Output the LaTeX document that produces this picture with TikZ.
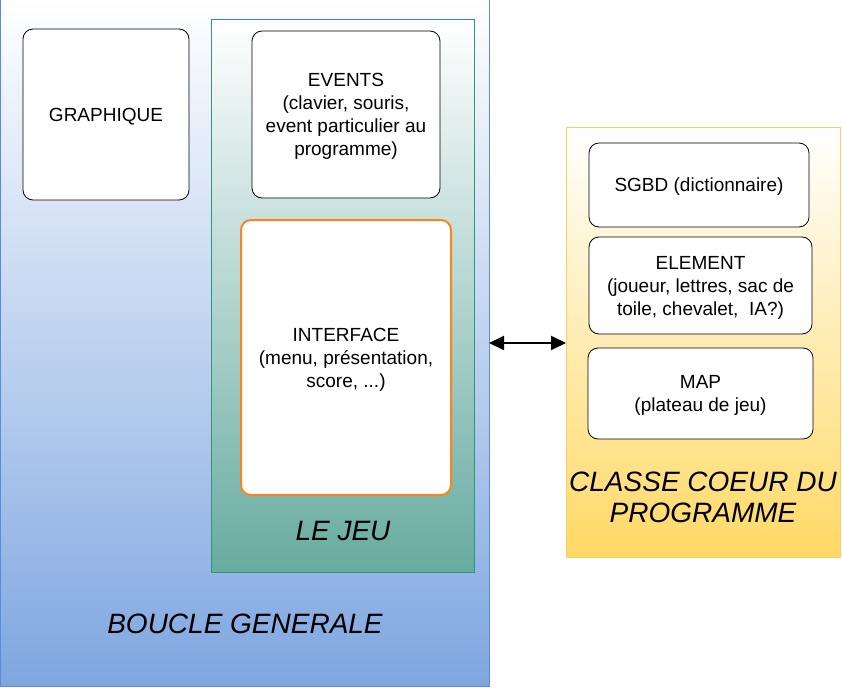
\documentclass[tikz,border=0pt]{standalone}
\usepackage{fontspec}
\setmainfont{Liberation Sans}
\usetikzlibrary{arrows.meta}
\definecolor{bleuBord}{RGB}{90,140,218}
\definecolor{bleuFond}{RGB}{126,166,224}
\definecolor{vertBord}{RGB}{45,150,125}
\definecolor{vertFond}{RGB}{103,171,159}
\definecolor{jauneBord}{RGB}{248,208,90}
\definecolor{jauneFond}{RGB}{255,217,102}
\definecolor{orangeBord}{RGB}{245,135,30}
\begin{document}
\begin{tikzpicture}[x=1pt, y=-1pt,
    bloc/.style={draw=black, fill=white, rounded corners=10pt, line width=0.8pt,
                 align=center, inner sep=0pt, text depth=0pt, font=\fontsize{19}{23}\selectfont},
    cadre/.style={inner sep=0pt, outer sep=0pt, anchor=north west, line width=1pt},
    titre/.style={align=center, font=\fontsize{28}{31}\selectfont\itshape},
    fleche/.style={{Triangle[length=15pt,width=14pt]}-{Triangle[length=15pt,width=14pt]}, line width=2pt}]
    \useasboundingbox (0,0) rectangle (842,687);
    % boucle generale
    \node[cadre, draw=bleuBord, top color=white, bottom color=bleuFond,
          minimum width=489pt, minimum height=686pt] (boucle) at (0,0) {};
    \node[bloc, minimum width=166pt, minimum height=171pt] (graphique) at (106,114.5) {GRAPHIQUE};
    %
    \node[cadre, draw=vertBord, top color=white, bottom color=vertFond,
          minimum width=263pt, minimum height=552pt] (jeu) at (211,20) {};
    \node[bloc, minimum width=188pt, minimum height=167pt] (events) at (346,114.5)
        {EVENTS\\(clavier, souris,\\event particulier au\\programme)};
    \node[bloc, draw=orangeBord, line width=2pt, minimum width=210pt, minimum height=275pt]
        (interface) at (346,357.5) {INTERFACE\\(menu, présentation,\\score, ...)};
    \node[titre] (titrejeu) at (343,531) {LE JEU};
    \node[titre] (titreboucle) at (245,624) {BOUCLE GENERALE};
    % classe coeur
    \node[cadre, draw=jauneBord, top color=white, bottom color=jauneFond,
          minimum width=274pt, minimum height=429pt] (coeur) at (566,128) {};
    \node[bloc, minimum width=220pt, minimum height=84pt] (sgbd) at (699,185) {SGBD (dictionnaire)};
    \node[bloc, minimum width=223pt, minimum height=97pt] (element) at (700.5,285.5)
        {ELEMENT\\(joueur, lettres, sac de\\toile, chevalet,\ \ IA?)};
    \node[bloc, minimum width=225pt, minimum height=91pt] (map) at (700.5,393.5)
        {MAP\\(plateau de jeu)};
    \node[titre] (titrecoeur) at (703,497.5) {CLASSE COEUR DU\\PROGRAMME};
    %
    \draw[fleche] (boucle.east) -- (boucle.east -| coeur.west);
\end{tikzpicture}
\end{document}
